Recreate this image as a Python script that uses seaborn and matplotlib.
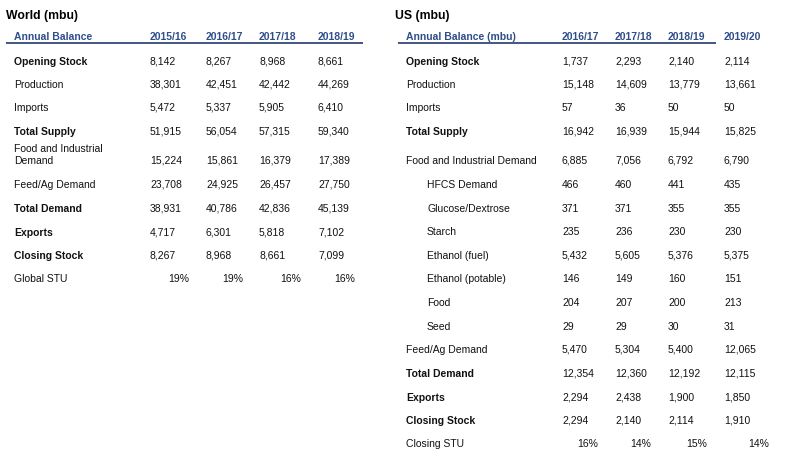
import matplotlib
matplotlib.use("Agg")
import matplotlib.pyplot as plt
import seaborn as sns

# -----------------------------------
# Data: World balance
# -----------------------------------
world_years = ["2015/16", "2016/17", "2017/18", "2018/19"]
world_rows = ["Opening Stock", "Production", "Imports", "Total Supply",
              "Food and Industrial\nDemand", "Feed/Ag Demand", "Total Demand",
              "Exports", "Closing Stock", "Global STU"]
world_bold = [True, False, False, True, False, False, True, True, True, False]
world_values = [
    ["8,142", "8,267", "8,968", "8,661"],
    ["38,301", "42,451", "42,442", "44,269"],
    ["5,472", "5,337", "5,905", "6,410"],
    ["51,915", "56,054", "57,315", "59,340"],
    ["15,224", "15,861", "16,379", "17,389"],
    ["23,708", "24,925", "26,457", "27,750"],
    ["38,931", "40,786", "42,836", "45,139"],
    ["4,717", "6,301", "5,818", "7,102"],
    ["8,267", "8,968", "8,661", "7,099"],
]
world_stu = ["19%", "19%", "16%", "16%"]

# -----------------------------------
# Data: US balance
# -----------------------------------
us_years = ["2016/17", "2017/18", "2018/19", "2019/20"]
us_rows = ["Opening Stock", "Production", "Imports", "Total Supply",
           "Food and Industrial Demand", "HFCS Demand", "Glucose/Dextrose",
           "Starch", "Ethanol (fuel)", "Ethanol (potable)", "Food", "Seed",
           "Feed/Ag Demand", "Total Demand", "Exports", "Closing Stock",
           "Closing STU"]
us_bold = [True, False, False, True, False, False, False, False, False,
           False, False, False, False, True, True, True, False]
us_indent = [False] * 5 + [True] * 7 + [False] * 5
us_values = [
    ["1,737", "2,293", "2,140", "2,114"],
    ["15,148", "14,609", "13,779", "13,661"],
    ["57", "36", "50", "50"],
    ["16,942", "16,939", "15,944", "15,825"],
    ["6,885", "7,056", "6,792", "6,790"],
    ["466", "460", "441", "435"],
    ["371", "371", "355", "355"],
    ["235", "236", "230", "230"],
    ["5,432", "5,605", "5,376", "5,375"],
    ["146", "149", "160", "151"],
    ["204", "207", "200", "213"],
    ["29", "29", "30", "31"],
    ["5,470", "5,304", "5,400", "12,065"],
    ["12,354", "12,360", "12,192", "12,115"],
    ["2,294", "2,438", "1,900", "1,850"],
    ["2,294", "2,140", "2,114", "1,910"],
]
us_stu = ["16%", "14%", "15%", "14%"]

# -----------------------------------
# Style
# -----------------------------------
sns.set_style("white")
plt.rcParams['font.family'] = ['Liberation Sans', 'DejaVu Sans']

HEAD_BLUE = "#2F4E8C"
LINE_COL = "#34497A"
TXT = "#111111"
FS = 7.5
BASE = 3.6   # row centre -> text baseline offset (px)

fig = plt.figure(figsize=(7.99, 4.63), dpi=100)
ax = fig.add_axes([0, 0, 1, 1])
ax.set_xlim(0, 799)
ax.set_ylim(463, 0)
ax.axis("off")


def put(x, y, s, **kw):
    kw.setdefault("fontsize", FS)
    kw.setdefault("color", TXT)
    ax.text(x, y + BASE, s, va="baseline", **kw)


def draw_panel(title, title_x, label_x, indent_x, header, years, col_x,
               pct_x, line_span, rows, bold, values, stu, row_y, indent=None):
    ax.text(title_x, 14 + 4.6, title, fontsize=8.8, fontweight="bold",
            va="baseline", ha="left", color="black")
    put(label_x, 36, header, fontweight="bold", color=HEAD_BLUE)
    for yr, x in zip(years, col_x):
        put(x, 36, yr, fontweight="bold", color=HEAD_BLUE)
    ax.plot(line_span, [42.5, 42.5], color=LINE_COL, lw=1.3,
            solid_capstyle="butt")

    for i, name in enumerate(rows):
        y = row_y[i]
        x = indent_x if (indent is not None and indent[i]) else label_x
        wt = "bold" if bold[i] else "normal"
        lines = name.split("\n")
        for k, line in enumerate(lines):
            put(x, y - 12 * (len(lines) - 1 - k), line, fontweight=wt)
        if i < len(values):
            for v, cx in zip(values[i], col_x):
                put(cx, y, v)
        else:
            for v, px in zip(stu, pct_x):
                put(px, y, v, ha="right")


# World (mbu)
world_y = [61, 84, 107, 131, 160, 184, 208, 232, 255, 278]
draw_panel("World (mbu)", 6, 14, 14, "Annual Balance", world_years,
           [150, 206, 259, 318], [189, 243, 301, 355], [6, 363],
           world_rows, world_bold, world_values, world_stu, world_y)

# US (mbu)
us_y = [61, 84, 107, 131, 160, 184, 208, 231, 255, 278, 302, 326, 349,
        373, 397, 420, 443]
draw_panel("US (mbu)", 395, 406, 427, "Annual Balance (mbu)", us_years,
           [562, 615, 668, 724], [598, 651, 707, 769], [398, 716],
           us_rows, us_bold, us_values, us_stu, us_y, indent=us_indent)

fig.savefig("out.png", dpi=100)
